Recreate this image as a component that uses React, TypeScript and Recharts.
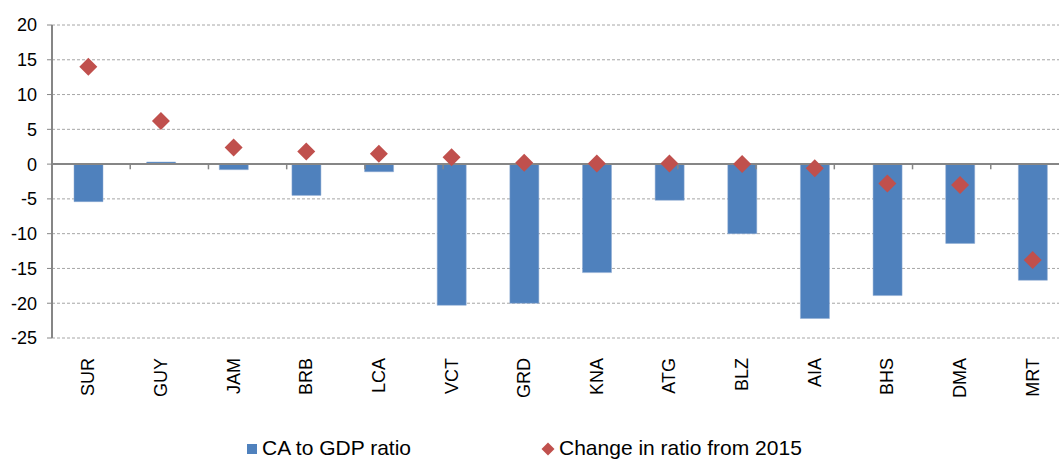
import React from "react";
import {
  ComposedChart,
  Bar,
  Line,
  XAxis,
  YAxis,
  CartesianGrid,
  ReferenceLine,
  Legend,
} from "recharts";

const categories = ["SUR", "GUY", "JAM", "BRB", "LCA", "VCT", "GRD", "KNA", "ATG", "BLZ", "AIA", "BHS", "DMA", "MRT"];
const caToGdp = [-5.4, 0.3, -0.8, -4.5, -1.1, -20.3, -20.0, -15.6, -5.2, -10.0, -22.2, -18.9, -11.4, -16.7];
const changeFrom2015 = [14.0, 6.2, 2.4, 1.8, 1.5, 1.0, 0.2, 0.1, 0.1, 0.0, -0.6, -2.8, -3.0, -13.8];
const yTicks = [-25, -20, -15, -10, -5, 0, 5, 10, 15, 20];
const boundaries = [1, 2, 3, 4, 5, 6, 7, 8, 9, 10, 11, 12, 13, 14];

const data = categories.map((c, i) => ({ name: c, ca: caToGdp[i], change: changeFrom2015[i] }));

const BLUE = "#4F81BD";
const RED = "#C0504D";
const AXIS = "#868686";
const FONT = "'Liberation Sans', Arial, sans-serif";

const Diamond = (props: any) => {
  const { cx, cy } = props;
  if (cx == null || cy == null) return null;
  const r = 9;
  return (
    <polygon
      points={`${cx},${cy - r} ${cx + r},${cy} ${cx},${cy + r} ${cx - r},${cy}`}
      fill={RED}
    />
  );
};

const XTick = (props: any) => {
  const { x, y, payload } = props;
  return (
    <text
      x={x}
      y={y + 12}
      transform={`rotate(-90, ${x}, ${y + 12})`}
      textAnchor="end"
      dominantBaseline="central"
      fontSize={18}
      fontFamily={FONT}
      fill="#000"
    >
      {payload.value}
    </text>
  );
};

const LegendContent = () => (
  <div style={{ position: "relative", width: 1059, height: 37, fontFamily: FONT, fontSize: 21, color: "#000", lineHeight: "normal" }}>
    <span style={{ position: "absolute", left: 247, top: 21, width: 10, height: 10, background: BLUE }} />
    <span style={{ position: "absolute", left: 262, top: 13, whiteSpace: "nowrap" }}>CA to GDP ratio</span>
    <svg width={14} height={14} style={{ position: "absolute", left: 541, top: 19 }}>
      <polygon points="7,0.5 13.5,7 7,13.5 0.5,7" fill={RED} />
    </svg>
    <span style={{ position: "absolute", left: 559, top: 13, whiteSpace: "nowrap" }}>Change in ratio from 2015</span>
  </div>
);

export default function App() {
  return (
    <div style={{ position: "absolute", left: 0, top: 0, width: 1059, height: 460, background: "#fff", overflow: "hidden" }}>
      <ComposedChart
        width={1059}
        height={460}
        data={data}
        margin={{ top: 25, right: -10, bottom: 0, left: 0 }}
        barCategoryGap={0}
      >
        <CartesianGrid vertical={false} stroke="#a6a6a6" strokeDasharray="3 2" />
        <XAxis
          dataKey="name"
          interval={0}
          axisLine={false}
          tickLine={false}
          height={85}
          tick={<XTick />}
        />
        <XAxis xAxisId="n" type="number" domain={[0, 14]} hide allowDataOverflow />
        <YAxis
          domain={[-25, 20]}
          ticks={yTicks}
          interval={0}
          width={52}
          axisLine={{ stroke: AXIS, strokeWidth: 2 }}
          tickLine={{ stroke: AXIS, strokeWidth: 1 }}
          tickSize={5}
          tickMargin={10}
          tick={{ fontSize: 18, fontFamily: FONT, fill: "#000" }}
        />
        <Bar dataKey="ca" name="CA to GDP ratio" fill={BLUE} stroke="#8EAAD3" strokeWidth={0.5} barSize={29} isAnimationActive={false} />
        <ReferenceLine y={0} stroke={AXIS} strokeWidth={2} />
        {boundaries.map((b) => (
          <ReferenceLine
            key={b}
            xAxisId="n"
            segment={[{ x: b, y: 0 }, { x: b, y: -0.75 }]}
            stroke={AXIS}
            strokeWidth={1.5}
          />
        ))}
        <Line
          dataKey="change"
          name="Change in ratio from 2015"
          stroke="none"
          strokeWidth={0}
          dot={<Diamond />}
          activeDot={false}
          isAnimationActive={false}
        />
        <Legend verticalAlign="bottom" wrapperStyle={{ height: 37, left: 0, width: 1059 }} content={<LegendContent />} />
      </ComposedChart>
    </div>
  );
}
